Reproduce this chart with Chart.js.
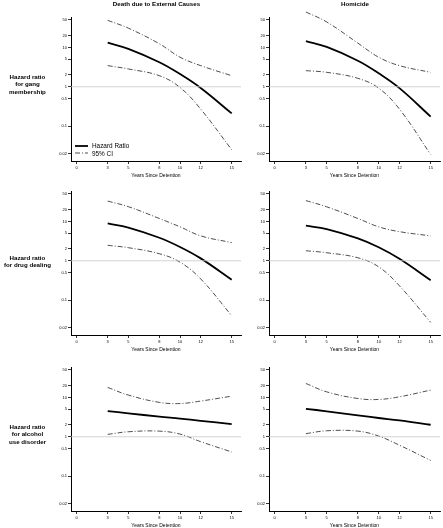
<!DOCTYPE html>
<html>
<head>
<meta charset="utf-8">
<script src="https://cdn.jsdelivr.net/npm/chart.js@4"></script>
<style>
  body { margin: 0; width: 443px; height: 528px; background: #fff; position: relative; overflow: hidden;
         font-family: "Liberation Sans", Arial, sans-serif; color: #000; }
  canvas { position: absolute; }
  .col-title { position: absolute; top: 0; font-weight: bold; font-size: 6.2px; color: #000; text-align: center;
               white-space: nowrap; will-change: transform; }
  .row-label { position: absolute; left: 0; width: 55px; font-weight: bold; font-size: 6.2px; color: #000;
               line-height: 7.4px; text-align: center; will-change: transform; }
  #legend { position: absolute; left: 75px; top: 142px; font-size: 6.4px; line-height: 7.6px; color: #000; will-change: transform; }
  #legend div { display: flex; align-items: center; white-space: nowrap; }
  #legend svg { margin-right: 4px; }
</style>
</head>
<body>
<script>
// x values (years since detention) and axis ticks
const years = [3, 5, 8, 10, 12, 15];
const xTicks = [0, 3, 5, 8, 10, 12, 15];
const yTicks = [0.02, 0.1, 0.5, 1, 2, 5, 10, 20, 50];
const refValue = 1;

const outcomes = ["Death due to External Causes", "Homicide"];
const exposures = [
  ["Hazard ratio", "for gang", "membership"],
  ["Hazard ratio", "for drug dealing"],
  ["Hazard ratio", "for alcohol", "use disorder"]
];
const seriesNames = ["Hazard Ratio", "95% CI"];
const xTitle = "Years Since Detention";

// gang membership
const gangExtHR = [13.2, 9.2, 4.2, 2.1, 0.93, 0.21];
const gangExtLo = [3.45, 2.84, 1.91, 0.96, 0.27, 0.025];
const gangExtHi = [49, 31, 12.4, 5.65, 3.45, 1.91];
const gangHomHR = [14.5, 10.3, 4.6, 2.2, 0.92, 0.174];
const gangHomLo = [2.57, 2.33, 1.64, 0.92, 0.27, 0.019];
const gangHomHi = [80, 44.6, 12.9, 5.65, 3.45, 2.33];

// drug dealing
const drugExtHR = [8.9, 7.0, 3.85, 2.24, 1.15, 0.33];
const drugExtLo = [2.47, 2.15, 1.51, 0.92, 0.345, 0.04];
const drugExtHi = [33, 23.8, 11.9, 7.3, 4.3, 2.9];
const drugHomHR = [7.8, 6.4, 3.7, 2.2, 1.12, 0.32];
const drugHomLo = [1.8, 1.6, 1.19, 0.7, 0.23, 0.027];
const drugHomHi = [34, 23.6, 11.9, 7.3, 5.5, 4.3];

// alcohol use disorder
const alcExtHR = [4.5, 3.95, 3.25, 2.9, 2.55, 2.1];
const alcExtLo = [1.15, 1.34, 1.39, 1.17, 0.75, 0.41];
const alcExtHi = [18, 11.5, 7.5, 7.0, 8.1, 10.8];
const alcHomHR = [5.15, 4.45, 3.5, 3.0, 2.6, 2.02];
const alcHomLo = [1.2, 1.42, 1.39, 1.04, 0.61, 0.25];
const alcHomHi = [22.7, 13.9, 9.4, 8.9, 10.4, 15.4];

const panels = [
  [[gangExtHR, gangExtLo, gangExtHi], [gangHomHR, gangHomLo, gangHomHi]],
  [[drugExtHR, drugExtLo, drugExtHi], [drugHomHR, drugHomLo, drugHomHi]],
  [[alcExtHR, alcExtLo, alcExtHi], [alcHomHR, alcHomLo, alcHomHi]]
];

// layout
const colLeft = [50, 248];
const colWidth = [192, 193];
const rowTop = [17, 191, 367];
const plotH = 144;
const padTop = 6;
const xAxisH = 20;
const yAxisW = 21;
const X_MIN = -0.55, X_MAX = 15.9;
const Y_MIN = 0.0129, Y_MAX = 59.6;

const HR_STYLE = { borderColor: "#000", borderWidth: 1.8, borderDash: [] };
const CI_STYLE = { borderColor: "#222", borderWidth: 0.8, borderDash: [5, 2, 1, 2] };

const pts = vals => years.map((x, i) => ({ x: x, y: vals[i] }));

function makeChart(row, col) {
  const [hr, lo, hi] = panels[row][col];
  const canvas = document.createElement("canvas");
  const h = plotH + padTop + xAxisH;
  canvas.width = colWidth[col];
  canvas.height = h;
  canvas.style.left = colLeft[col] + "px";
  canvas.style.top = (rowTop[row] - padTop) + "px";
  document.body.appendChild(canvas);

  const line = (label, vals, style) => ({
    label: label,
    data: pts(vals),
    borderColor: style.borderColor,
    borderWidth: style.borderWidth,
    borderDash: style.borderDash,
    pointRadius: 0,
    fill: false,
    tension: 0.4,
    clip: false
  });

  new Chart(canvas.getContext("2d"), {
    type: "line",
    data: {
      datasets: [
        {
          label: "ref",
          data: [{ x: X_MIN, y: refValue }, { x: X_MAX, y: refValue }],
          borderColor: "#c8c8c8",
          borderWidth: 0.8,
          pointRadius: 0
        },
        line(seriesNames[1], lo, CI_STYLE),
        line(seriesNames[1], hi, CI_STYLE),
        line(seriesNames[0], hr, HR_STYLE)
      ]
    },
    options: {
      responsive: false,
      animation: false,
      devicePixelRatio: 1,
      layout: { padding: { top: padTop, right: 1, left: 0, bottom: 0 } },
      plugins: { legend: { display: false }, tooltip: { enabled: false } },
      scales: {
        x: {
          type: "linear",
          min: X_MIN,
          max: X_MAX,
          afterBuildTicks: s => { s.ticks = xTicks.map(v => ({ value: v })); },
          afterFit: s => { s.height = xAxisH; },
          ticks: { color: "#000", font: { size: 4, family: "Liberation Sans" }, padding: 1, autoSkip: false, maxRotation: 0 },
          grid: { drawOnChartArea: false, tickLength: 3, color: "#000", lineWidth: 0.8 },
          border: { color: "#000", width: 1 },
          title: {
            display: true,
            text: xTitle,
            color: "#000",
            font: { size: 5, family: "Liberation Sans" },
            padding: { top: 0, bottom: 2 }
          }
        },
        y: {
          type: "logarithmic",
          min: Y_MIN,
          max: Y_MAX,
          afterBuildTicks: s => { s.ticks = yTicks.map(v => ({ value: v })); },
          afterFit: s => { s.width = yAxisW; },
          ticks: {
            color: "#000",
            font: { size: 4, family: "Liberation Sans" },
            padding: 1,
            autoSkip: false,
            callback: v => String(v)
          },
          grid: { drawOnChartArea: false, tickLength: 3, color: "#000", lineWidth: 0.8 },
          border: { color: "#000", width: 1 }
        }
      }
    }
  });
}

for (let r = 0; r < 3; r++) {
  for (let c = 0; c < 2; c++) makeChart(r, c);
}

// column titles
outcomes.forEach((t, c) => {
  const d = document.createElement("div");
  d.className = "col-title";
  d.textContent = t;
  d.style.left = (colLeft[c] + yAxisW) + "px";
  d.style.width = (colWidth[c] - yAxisW) + "px";
  document.body.appendChild(d);
});

// row labels
const rowCenter = [84.5, 261, 434.5];
exposures.forEach((lines, r) => {
  const d = document.createElement("div");
  d.className = "row-label";
  d.innerHTML = lines.join("<br>");
  d.style.top = (rowCenter[r] - lines.length * 7.4 / 2) + "px";
  document.body.appendChild(d);
});

// legend (first panel)
const legend = document.createElement("div");
legend.id = "legend";
[[seriesNames[0], HR_STYLE], [seriesNames[1], CI_STYLE]].forEach(([name, st]) => {
  const row = document.createElement("div");
  row.innerHTML =
    '<svg width="13" height="4"><line x1="0" y1="2" x2="13" y2="2" stroke="' + st.borderColor +
    '" stroke-width="' + st.borderWidth + '" stroke-dasharray="' + (st.borderDash.join(" ") || "none") +
    '"/></svg><span>' + name + '</span>';
  legend.appendChild(row);
});
document.body.appendChild(legend);
</script>
</body>
</html>
